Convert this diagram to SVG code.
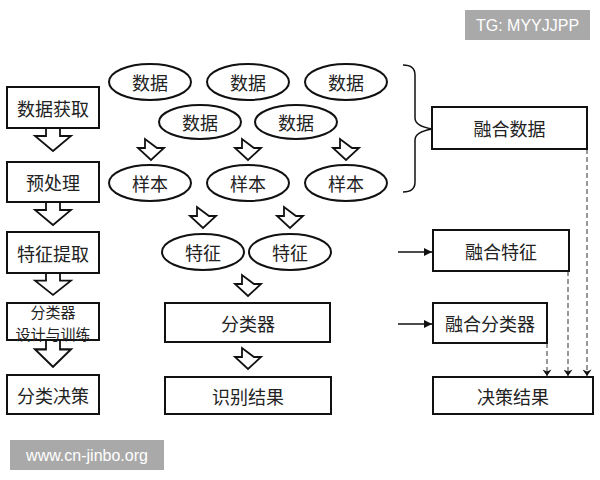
<svg xmlns="http://www.w3.org/2000/svg" width="600" height="480" viewBox="0 0 600 480">
<style>
.box{fill:#fff;stroke:#111;stroke-width:2}
.ell{fill:#fff;stroke:#111;stroke-width:2}
.t{font-family:"Noto Sans CJK SC","Noto Sans CJK JP",sans-serif;font-size:18px;fill:#222;text-anchor:middle;dominant-baseline:central}
.t2{font-size:15px}
.blk{fill:#fff;stroke:#111;stroke-width:1.8;stroke-linejoin:miter}
.dash{stroke:#777;stroke-width:1.5;stroke-dasharray:5,3;fill:none}
.ln{stroke:#111;stroke-width:1.5;fill:none}
.wm{font-family:"Liberation Sans",Arial,sans-serif;font-size:16px;fill:#fff;text-anchor:middle;dominant-baseline:central}
</style>
<defs>
<path id="big" d="M-7,0 V8 H-18 L0,23 L18,8 H7 V0"/>
<path id="small" d="M-6,0 V9 H-13 L0,21 L13,9 H6 Z"/>
<marker id="ah" viewBox="0 0 10 10" refX="10" refY="5" markerWidth="10" markerHeight="8" markerUnits="userSpaceOnUse" orient="auto"><path d="M0,0 L10,5 L0,10 Z" fill="#111"/></marker>
<marker id="ahd" viewBox="0 0 10 14" refX="10" refY="7" markerWidth="13" markerHeight="9" markerUnits="userSpaceOnUse" orient="auto"><path d="M0,0 L10,7 L0,14 L3,7 Z" fill="#111"/></marker>
</defs>

<g id="connectors">
<use href="#big" class="blk" transform="translate(53,128)"/>
<use href="#big" class="blk" transform="translate(53,202)"/>
<use href="#big" class="blk" transform="translate(53,273) scale(1,0.95)"/>
<use href="#big" class="blk" transform="translate(53,340) scale(1,1.17)"/>
<use href="#small" class="blk" transform="translate(151,139)"/>
<use href="#small" class="blk" transform="translate(248,139)"/>
<use href="#small" class="blk" transform="translate(346,139)"/>
<use href="#small" class="blk" transform="translate(203,207)"/>
<use href="#small" class="blk" transform="translate(290,207)"/>
<use href="#small" class="blk" transform="translate(248,275)"/>
<use href="#small" class="blk" transform="translate(248,348)"/>
<path class="ln" d="M403,65 Q415,65 415,75 V118 Q415,126 432,129 Q415,132 415,140 V182 Q415,192 403,192"/>
<line class="ln" x1="398" y1="252" x2="432" y2="252" marker-end="url(#ah)"/>
<line class="ln" x1="398" y1="324" x2="432" y2="324" marker-end="url(#ah)"/>
<line class="dash" x1="587" y1="149" x2="587" y2="376" marker-end="url(#ahd)"/>
<line class="dash" x1="568" y1="271" x2="568" y2="376" marker-end="url(#ahd)"/>
<line class="dash" x1="547" y1="343" x2="547" y2="376" marker-end="url(#ahd)"/>
</g>

<g id="n-acq"><rect class="box" x="7" y="87" width="92" height="41"/><text class="t" x="53" y="107.5">数据获取</text></g>
<g id="n-pre"><rect class="box" x="7" y="162" width="92" height="40"/><text class="t" x="53" y="182">预处理</text></g>
<g id="n-feat"><rect class="box" x="7" y="232" width="92" height="41"/><text class="t" x="53" y="252.5">特征提取</text></g>
<g id="n-cls"><rect class="box" x="7" y="303" width="92" height="37"/><text class="t t2" x="53" y="311">分类器</text><text class="t t2" x="53" y="333">设计与训练</text></g>
<g id="n-dec"><rect class="box" x="7" y="375" width="92" height="39"/><text class="t" x="53" y="394.5">分类决策</text></g>

<g id="d1"><ellipse class="ell" cx="150" cy="82" rx="41" ry="18"/><text class="t" x="150" y="82">数据</text></g>
<g id="d2"><ellipse class="ell" cx="248" cy="82" rx="41" ry="18"/><text class="t" x="248" y="82">数据</text></g>
<g id="d3"><ellipse class="ell" cx="346" cy="82" rx="41" ry="18"/><text class="t" x="346" y="82">数据</text></g>
<g id="d4"><ellipse class="ell" cx="200" cy="122" rx="41" ry="17"/><text class="t" x="200" y="122">数据</text></g>
<g id="d5"><ellipse class="ell" cx="296" cy="122" rx="41" ry="17"/><text class="t" x="296" y="122">数据</text></g>
<g id="s1"><ellipse class="ell" cx="150" cy="183" rx="41" ry="18"/><text class="t" x="150" y="183">样本</text></g>
<g id="s2"><ellipse class="ell" cx="248" cy="183" rx="41" ry="18"/><text class="t" x="248" y="183">样本</text></g>
<g id="s3"><ellipse class="ell" cx="346" cy="183" rx="41" ry="18"/><text class="t" x="346" y="183">样本</text></g>
<g id="f1"><ellipse class="ell" cx="203" cy="252" rx="41" ry="18"/><text class="t" x="203" y="252">特征</text></g>
<g id="f2"><ellipse class="ell" cx="290" cy="252" rx="41" ry="18"/><text class="t" x="290" y="252">特征</text></g>
<g id="m-cls"><rect class="box" x="165" y="303" width="165" height="39"/><text class="t" x="248" y="322.5">分类器</text></g>
<g id="m-res"><rect class="box" x="165" y="377" width="166" height="37"/><text class="t" x="248" y="395.5">识别结果</text></g>

<g id="r-data"><rect class="box" x="432" y="107" width="155" height="42"/><text class="t" x="509.5" y="128">融合数据</text></g>
<g id="r-feat"><rect class="box" x="433" y="230" width="136" height="41"/><text class="t" x="501" y="250.5">融合特征</text></g>
<g id="r-cls"><rect class="box" x="433" y="303" width="114" height="40"/><text class="t" x="490" y="323">融合分类器</text></g>
<g id="r-dec"><rect class="box" x="433" y="377" width="160" height="37"/><text class="t" x="513" y="395.5">决策结果</text></g>

<g id="wm1"><rect x="465" y="10" width="125" height="30" fill="#a9a9a9"/><text class="wm" x="527.5" y="25">TG: MYYJJPP</text></g>
<g id="wm2"><rect x="10" y="440" width="154" height="30" fill="#a9a9a9"/><text class="wm" x="87" y="455">www.cn-jinbo.org</text></g>
</svg>
